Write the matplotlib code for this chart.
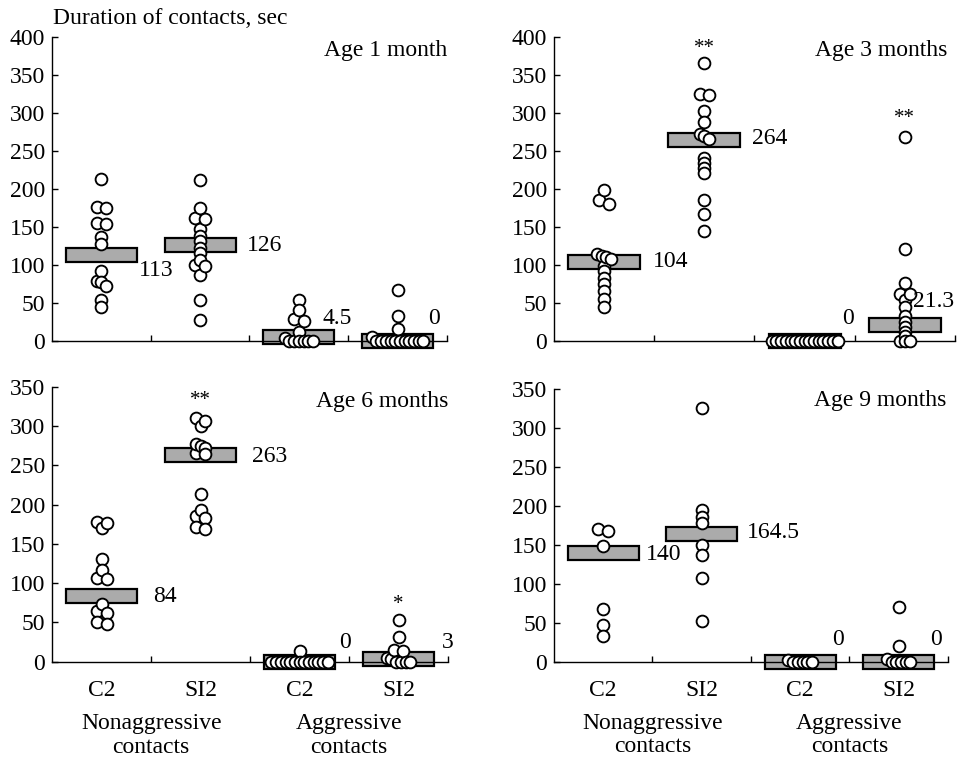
import matplotlib
matplotlib.use("Agg")
import matplotlib.pyplot as plt
from matplotlib.transforms import blended_transform_factory
import numpy as np

plt.rcParams['font.family'] = ['Liberation Serif', 'DejaVu Serif']
plt.rcParams['font.size'] = 17

# --- datos ---
groups = ['C2', 'SI2', 'C2', 'SI2']
group_titles = ['Nonaggressive\ncontacts', 'Aggressive\ncontacts']
ages = ['Age 1 month', 'Age 3 months', 'Age 6 months', 'Age 9 months']
ylabel = 'Duration of contacts, sec'

# edad 1 mes
m1_non_c2 = [213, 176, 174, 155, 154, 136, 127, 92, 78, 77, 72, 53, 45]
m1_non_si2 = [211, 175, 162, 160, 147, 138, 131, 122, 115, 106, 100, 98, 87, 54, 27]
m1_agr_c2 = [53, 40, 28, 26, 12, 4, 0, 0, 0, 0, 0, 0]
m1_agr_si2 = [67, 32, 16, 5, 0, 0, 0, 0, 0, 0, 0, 0, 0, 0, 0]
m1_medians = [113, 126, 4.5, 0]

# edad 3 meses
m3_non_c2 = [198, 185, 180, 114, 112, 110, 108, 98, 92, 83, 75, 66, 55, 44]
m3_non_si2 = [365, 325, 323, 302, 288, 272, 269, 265, 241, 234, 227, 220, 185, 167, 144]
m3_agr_c2 = [0, 0, 0, 0, 0, 0, 0, 0, 0, 0, 0, 0, 0, 0, 0]
m3_agr_si2 = [268, 120, 76, 62, 61, 53, 44, 33, 24, 18, 12, 6, 0, 0, 0]
m3_medians = [104, 264, 0, 21.3]
m3_stars = ['', '**', '', '**']

# edad 6 meses
m6_non_c2 = [178, 176, 170, 131, 117, 107, 105, 74, 64, 62, 51, 48]
m6_non_si2 = [310, 306, 300, 277, 274, 272, 266, 264, 214, 193, 186, 183, 171, 169]
m6_agr_c2 = [13, 0, 0, 0, 0, 0, 0, 0, 0, 0, 0, 0, 0, 0]
m6_agr_si2 = [53, 32, 15, 14, 5, 3, 0, 0, 0, 0]
m6_medians = [84, 263, 0, 3]
m6_stars = ['', '**', '', '*']

# edad 9 meses
m9_non_c2 = [170, 168, 148, 67, 47, 33]
m9_non_si2 = [326, 195, 186, 178, 150, 137, 108, 52]
m9_agr_c2 = [2, 0, 0, 0, 0, 0]
m9_agr_si2 = [70, 20, 4, 0, 0, 0, 0, 0]
m9_medians = [140, 164.5, 0, 0]

panel_points = [
    [m1_non_c2, m1_non_si2, m1_agr_c2, m1_agr_si2],
    [m3_non_c2, m3_non_si2, m3_agr_c2, m3_agr_si2],
    [m6_non_c2, m6_non_si2, m6_agr_c2, m6_agr_si2],
    [m9_non_c2, m9_non_si2, m9_agr_c2, m9_agr_si2],
]
panel_medians = [m1_medians, m3_medians, m6_medians, m9_medians]
panel_stars = [['', '', '', ''], m3_stars, m6_stars, ['', '', '', '']]
panel_ymax = [400, 400, 350, 350]

# --- disposicion (pixeles de la figura 962x757) ---
W, H = 962, 757
# izquierda, derecha, arriba, abajo en pixeles
rects_px = [(52, 447, 36.7, 340.7), (554, 955, 36.7, 340.7),
            (52.3, 448, 386.7, 661.7), (554, 948, 389, 661.7)]
age_pos = [(1.0, 0.956), (0.98, 0.956), (1.0, 0.945), (0.997, 0.956)]
label_dx = [[0.384, 0.47, 0.24, 0.31], [0.485, 0.472, 0.37, 0.084],
            [0.521, 0.522, 0.40, 0.437], [0.431, 0.456, 0.32, 0.317]]
label_y = [[93, 125, 29, 29], [104, 266, 29, 51],
           [83, 261, 25, 25], [137, 166, 29, 29]]
star_y = [[0, 0, 0, 0], [0, 385, 0, 293], [0, 333, 0, 73], [0, 0, 0, 0]]


def swarm_offsets(values, px_per_unit, px_per_x):
    # agrupa valores casi iguales y los reparte en horizontal
    vals = np.asarray(values, float)
    order = np.argsort(-vals, kind='stable')
    offs = np.zeros(len(vals))
    clusters = []
    cur = [order[0]]
    for a, b in zip(order[:-1], order[1:]):
        if (vals[a] - vals[b]) * px_per_unit < 4:
            cur.append(b)
        else:
            clusters.append(cur)
            cur = [b]
    clusters.append(cur)
    for c in clusters:
        n = len(c)
        step = 9.5 if n <= 2 else 4.7
        for k, idx in enumerate(c):
            offs[idx] = (k - (n - 1) / 2) * step / px_per_x
    return offs


fig = plt.figure(figsize=(W / 100, H / 100), dpi=100)

for p in range(4):
    l, r, t, b = rects_px[p]
    ax = fig.add_axes([l / W, 1 - b / H, (r - l) / W, (b - t) / H])
    ymax = panel_ymax[p]
    ax.set_xlim(0, 4)
    ax.set_ylim(0, ymax)
    px_per_unit = (b - t) / ymax
    px_per_x = (r - l) / 4
    h = 7 / px_per_unit

    for i in range(4):
        xc = i + 0.5
        med = panel_medians[p][i]
        ax.bar(xc, 2 * h, bottom=med - h, width=0.72, color='#ababab',
               edgecolor='black', linewidth=1.6, zorder=2, clip_on=False)
        vals = np.asarray(panel_points[p][i], float)
        offs = swarm_offsets(vals, px_per_unit, px_per_x)
        srt = np.argsort(offs, kind='stable')
        ax.scatter(xc + offs[srt], vals[srt], s=72, facecolor='white',
                   edgecolor='black', linewidths=1.35, zorder=3, clip_on=False)
        ax.text(xc + label_dx[p][i], label_y[p][i], f"{med:g}",
                ha='left', va='center', zorder=4)
        if panel_stars[p][i]:
            ax.text(xc, star_y[p][i], panel_stars[p][i], ha='center',
                    va='center', fontsize=15)

    ax.text(age_pos[p][0], age_pos[p][1], ages[p], ha='right', va='center',
            transform=ax.transAxes)

    for s in ['top', 'right']:
        ax.spines[s].set_visible(False)
    for s in ['left', 'bottom']:
        ax.spines[s].set_linewidth(1.0)

    ax.set_yticks(np.arange(0, ymax + 1, 50))
    ax.tick_params(axis='y', direction='in', length=4, width=1.0, pad=5)
    ax.set_xticks([1, 2, 3, 4])
    ax.set_xticklabels([])
    ax.tick_params(axis='x', which='major', direction='in', length=4, width=1.0)

    if p >= 2:
        ax.set_xticks([0.5, 1.5, 2.5, 3.5], minor=True)
        ax.set_xticklabels(groups, minor=True)
        ax.tick_params(axis='x', which='minor', length=0, pad=13)
        tr = blended_transform_factory(ax.transData, ax.transAxes)
        ax.text(1, -0.268, group_titles[0], ha='center', va='center',
                linespacing=1.14, transform=tr)
        ax.text(3, -0.268, group_titles[1], ha='center', va='center',
                linespacing=1.14, transform=tr)

fig.text(52.7 / W, 1 - 18.3 / H, ylabel, ha='left', va='center')

fig.savefig('out.png', dpi=100)
